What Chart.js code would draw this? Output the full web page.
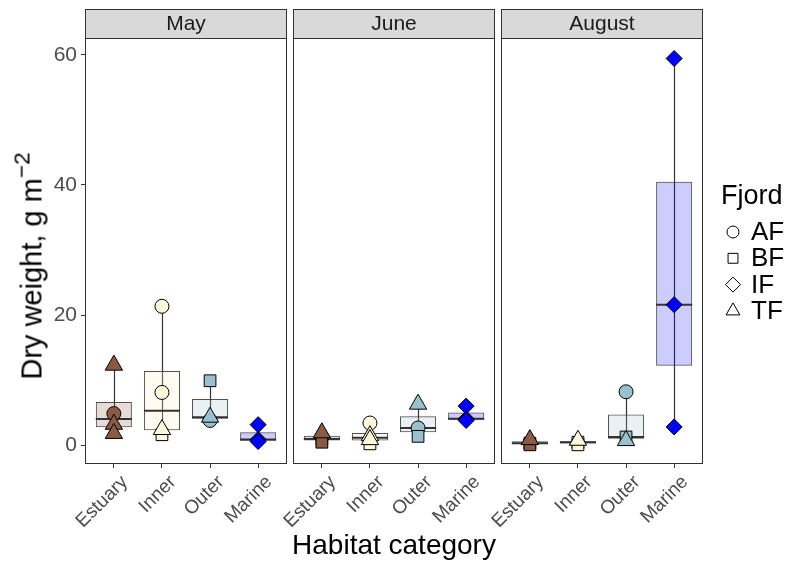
<!DOCTYPE html>
<html>
<head>
<meta charset="utf-8">
<script src="https://cdn.jsdelivr.net/npm/chart.js@4.4.1/dist/chart.umd.min.js"></script>
<style>
  html, body { margin: 0; padding: 0; background: #fff; }
  #wrap { position: relative; width: 794px; height: 562px; overflow: hidden;
          font-family: 'Liberation Sans', Arial, Helvetica, sans-serif; }
  #wrap canvas { position: absolute; left: 0; top: 0; }
  #ytitle { position: absolute; left: 32px; top: 266px; white-space: nowrap;
            font-size: 29px; line-height: 1; color: #000;
            transform: translate(-50%, -50%) rotate(-90deg); }
  #ytitle sup { font-size: 0.78em; vertical-align: 0.55em; line-height: 0; }
  #xtitle { position: absolute; left: 394px; top: 545px; white-space: nowrap;
            font-size: 28px; line-height: 1; color: #000;
            transform: translate(-50%, -50%); }
</style>
</head>
<body>
<div id="wrap">
  <canvas id="c0" width="794" height="562"></canvas>
  <canvas id="c1" width="794" height="562"></canvas>
  <canvas id="c2" width="794" height="562"></canvas>
  <div id="ytitle">Dry weight, g m<sup>−2</sup></div>
  <div id="xtitle">Habitat category</div>
</div>
<script>
// ---- data -------------------------------------------------------------
const habitats = ['Estuary', 'Inner', 'Outer', 'Marine'];
const months = ['May', 'June', 'August'];
const fjords = ['AF', 'BF', 'IF', 'TF'];
const yTicks = [0, 20, 40, 60];

// Box summaries: one row per month, columns in habitat order
const boxLow    = [[1.8, 1.6, 3.8, 0.55], [0.45, 0.2, 1.35, 3.8], [0.05, 0.05, 0.7, 2.8]];
const boxQ1     = [[2.74, 2.3, 4.05, 0.69], [0.7, 0.7, 2.0, 3.92], [0.18, 0.25, 0.97, 12.2]];
const boxMedian = [[4.03, 5.3, 4.3, 0.85], [0.95, 1.12, 2.64, 4.05], [0.3, 0.45, 1.25, 21.6]];
const boxQ3     = [[6.64, 11.4, 7.1, 1.97], [1.43, 1.85, 4.45, 5.0], [0.58, 0.6, 4.7, 40.5]];
const boxHigh   = [[12.3, 21.35, 9.9, 3.15], [1.9, 3.4, 6.3, 6.0], [0.85, 0.75, 8.2, 59.45]];

// Individual samples: [habitat, fjord, dry weight]
const mayPoints = [
  ['Estuary', 'TF', 12.3], ['Estuary', 'AF', 4.85], ['Estuary', 'TF', 3.2], ['Estuary', 'TF', 1.8],
  ['Inner', 'AF', 21.35], ['Inner', 'AF', 8.1], ['Inner', 'TF', 2.4], ['Inner', 'BF', 1.6],
  ['Outer', 'BF', 9.9], ['Outer', 'TF', 4.3], ['Outer', 'AF', 3.8],
  ['Marine', 'IF', 3.15], ['Marine', 'IF', 0.85], ['Marine', 'IF', 0.55]
];
const junePoints = [
  ['Estuary', 'TF', 1.9], ['Estuary', 'BF', 0.95], ['Estuary', 'BF', 0.45],
  ['Inner', 'AF', 3.4], ['Inner', 'TF', 1.45], ['Inner', 'TF', 0.85], ['Inner', 'BF', 0.2],
  ['Outer', 'TF', 6.3], ['Outer', 'AF', 2.64], ['Outer', 'BF', 1.35],
  ['Marine', 'IF', 6.0], ['Marine', 'IF', 4.05], ['Marine', 'IF', 3.8]
];
const augustPoints = [
  ['Estuary', 'TF', 0.85], ['Estuary', 'BF', 0.3], ['Estuary', 'BF', 0.05],
  ['Inner', 'TF', 0.75], ['Inner', 'BF', 0.45], ['Inner', 'BF', 0.05],
  ['Outer', 'AF', 8.2], ['Outer', 'BF', 1.25], ['Outer', 'TF', 0.7],
  ['Marine', 'IF', 59.45], ['Marine', 'IF', 21.6], ['Marine', 'IF', 2.8]
];
const monthPoints = [mayPoints, junePoints, augustPoints];

// ---- styling & layout ---------------------------------------------------
const FONT = "'Liberation Sans', Arial, Helvetica, sans-serif";
const pointFill = ['#8B5A45', '#FFF8DC', '#9AC0CD', '#0000FF'];
const boxFill = ['rgba(139,90,69,0.22)', 'rgba(255,240,200,0.25)', 'rgba(154,192,205,0.22)', 'rgba(0,0,255,0.2)'];
const shapeOf = { AF: 'circle', BF: 'rect', IF: 'rectRot', TF: 'triangle' };
const radiusOf = { AF: 7, BF: 8.3, IF: 8, TF: 10 };
const legendRadius = { AF: 6, BF: 7, IF: 7.5, TF: 8 };
const drawOrder = { AF: 3, BF: 2, IF: 1, TF: 0 };

const PANEL_L = [85, 293, 501];
const PANEL_R = [287, 495, 703];
const PANEL_T = 38;
const PANEL_B = 464;
const STRIP_T = 9;
const Y_MIN = -2.9, Y_MAX = 62.6;

Chart.defaults.font.family = FONT;

// whiskers, medians, frame, strip and legend
const boxParts = {
  id: 'boxParts',
  beforeDatasetsDraw(chart, args, opts) {
    const i = opts.panel;
    const { ctx, scales: { x, y } } = chart;
    ctx.save();
    ctx.strokeStyle = '#333';
    ctx.lineWidth = 1.2;
    habitats.forEach((h, k) => {
      const px = Math.round(x.getPixelForValue(k)) + 0.5;
      ctx.beginPath();
      ctx.moveTo(px, y.getPixelForValue(boxLow[i][k]));
      ctx.lineTo(px, y.getPixelForValue(boxHigh[i][k]));
      ctx.stroke();
    });
    ctx.restore();
  },
  afterDatasetDraw(chart, args, opts) {
    if (args.index !== 0) return;
    const i = opts.panel;
    const { ctx, scales: { y } } = chart;
    ctx.save();
    ctx.strokeStyle = '#333';
    ctx.lineWidth = 2;
    args.meta.data.forEach((bar, k) => {
      const half = bar.width / 2;
      const py = y.getPixelForValue(boxMedian[i][k]);
      ctx.beginPath();
      ctx.moveTo(bar.x - half, py);
      ctx.lineTo(bar.x + half, py);
      ctx.stroke();
    });
    ctx.restore();
  },
  afterDraw(chart, args, opts) {
    const i = opts.panel;
    const { ctx, chartArea: a } = chart;
    ctx.save();
    // panel frame
    ctx.strokeStyle = '#333';
    ctx.lineWidth = 1;
    ctx.strokeRect(a.left + 0.5, a.top + 0.5, a.right - a.left - 1, a.bottom - a.top - 1);
    // facet strip
    ctx.fillStyle = '#d9d9d9';
    ctx.fillRect(a.left, STRIP_T, a.right - a.left, a.top - STRIP_T);
    ctx.strokeRect(a.left + 0.5, STRIP_T + 0.5, a.right - a.left - 1, a.top - STRIP_T);
    ctx.fillStyle = '#1a1a1a';
    ctx.font = '21px ' + FONT;
    ctx.textAlign = 'center';
    ctx.textBaseline = 'middle';
    ctx.fillText(months[i], (a.left + a.right) / 2, (STRIP_T + a.top) / 2 + 1);

    if (i === months.length - 1) {
      // shape legend
      ctx.textAlign = 'left';
      ctx.fillStyle = '#000';
      ctx.font = '27px ' + FONT;
      ctx.fillText('Fjord', 721, 197);
      ctx.font = '26px ' + FONT;
      fjords.forEach((f, j) => {
        const cy = 232 + j * 26.3;
        ctx.fillStyle = 'rgba(0,0,0,0)';
        ctx.strokeStyle = '#000';
        ctx.lineWidth = 1;
        Chart.helpers.drawPoint(ctx, { pointStyle: shapeOf[f], radius: legendRadius[f], borderWidth: 1, rotation: 0 }, 733, cy);
        ctx.fillStyle = '#000';
        ctx.fillText(f, 751, cy + 1);
      });
    }
    ctx.restore();
  }
};

function makePanel(i) {
  const pts = monthPoints[i];
  const datasets = [{
    type: 'bar',
    data: habitats.map((h, k) => ({ x: k, y: [boxQ1[i][k], boxQ3[i][k]] })),
    backgroundColor: boxFill,
    borderColor: 'rgba(51,51,51,0.85)',
    borderWidth: 1,
    borderSkipped: false,
    barPercentage: 0.75,
    categoryPercentage: 1,
    order: 10
  }];
  fjords.forEach(f => {
    const sel = pts.filter(p => p[1] === f);
    datasets.push({
      type: 'scatter',
      label: f,
      data: sel.map(p => ({ x: habitats.indexOf(p[0]), y: p[2] })),
      pointStyle: shapeOf[f],
      pointRadius: radiusOf[f],
      pointBackgroundColor: sel.map(p => pointFill[habitats.indexOf(p[0])]),
      pointBorderColor: '#000',
      pointBorderWidth: 1,
      order: drawOrder[f]
    });
  });

  return new Chart(document.getElementById('c' + i), {
    type: 'bar',
    data: { datasets },
    plugins: [boxParts],
    options: {
      responsive: false,
      devicePixelRatio: 1,
      animation: false,
      events: [],
      layout: {
        padding: { left: i === 0 ? 0 : PANEL_L[i], right: 794 - PANEL_R[i], top: PANEL_T, bottom: 0 }
      },
      plugins: {
        legend: { display: false },
        tooltip: { enabled: false },
        boxParts: { panel: i }
      },
      scales: {
        x: {
          type: 'linear',
          min: -0.6, max: 3.6,
          offset: false,
          afterBuildTicks: s => { s.ticks = habitats.map((h, k) => ({ value: k })); },
          afterFit: s => { s.height = 562 - PANEL_B; },
          grid: { display: true, drawOnChartArea: false, drawTicks: true, tickLength: 4,
                  color: '#333', tickColor: '#333', offset: false },
          border: { display: false },
          ticks: {
            autoSkip: false, minRotation: 45, maxRotation: 45, padding: 3, labelOffset: 11,
            color: '#4d4d4d', font: { size: 19 },
            callback: v => habitats[v]
          }
        },
        y: {
          type: 'linear',
          min: Y_MIN, max: Y_MAX,
          display: i === 0,
          afterBuildTicks: s => { s.ticks = yTicks.map(v => ({ value: v })); },
          afterFit: s => { s.width = i === 0 ? PANEL_L[0] : 0; },
          grid: { display: true, drawOnChartArea: false, drawTicks: true, tickLength: 4,
                  color: '#333', tickColor: '#333' },
          border: { display: false },
          ticks: { color: '#4d4d4d', font: { size: 21 }, padding: 4 }
        }
      }
    }
  });
}

months.forEach((m, i) => makePanel(i));
</script>
</body>
</html>
